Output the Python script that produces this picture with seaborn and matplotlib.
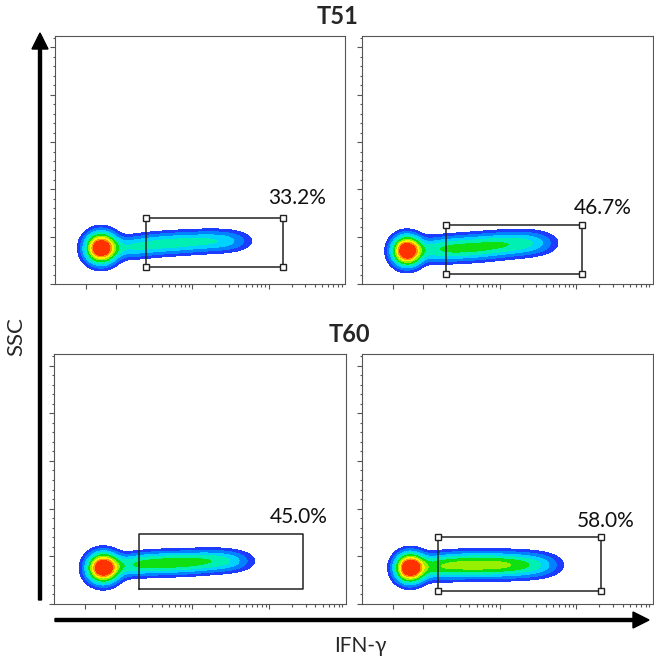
import numpy as np
import matplotlib
matplotlib.use('Agg')
import matplotlib.pyplot as plt
import seaborn as sns
from matplotlib.patches import FancyArrow
from matplotlib.transforms import IdentityTransform
from matplotlib.ticker import FixedLocator, MultipleLocator, NullFormatter

# --- Data (order: T51 left, T51 right, T60 left, T60 right) ---
ROW_TITLES = ['T51', 'T60']
GATE_LABELS = ['33.2%', '46.7%', '45.0%', '58.0%']

# IFN-gamma negative population (centre, spread in decades / SSC units)
HEAD_X = [507, 465, 595, 562]
HEAD_Y = [38000, 35000, 37800, 37800]
HEAD_SX = [0.126, 0.118, 0.126, 0.118]
HEAD_SY = [9900, 9500, 9500, 9300]

# IFN-gamma positive streak: ridge points along the tail
TAIL_X = [
    [1310, 2190, 3660, 6110, 10200, 17000, 26800, 38500],
    [1220, 2030, 3370, 5610, 9350, 15600, 24400, 35000],
    [1370, 2290, 3800, 6340, 10500, 17500, 27500, 39400],
    [1220, 2030, 3370, 5610, 9350, 15600, 25900, 39400],
]
TAIL_Y = [
    [38100, 40200, 42300, 43300, 44400, 45400, 45400, 45400],
    [35900, 37000, 38000, 39100, 41200, 42300, 43300, 43300],
    [39900, 42000, 43000, 43000, 44000, 45100, 45100, 45100],
    [38800, 39900, 40900, 40900, 40900, 40900, 40900, 40900],
]
TAIL_AMP = [
    [0.15, 0.14, 0.15, 0.15, 0.14, 0.13, 0.10, 0.06],
    [0.17, 0.19, 0.20, 0.20, 0.19, 0.16, 0.12, 0.07],
    [0.18, 0.20, 0.21, 0.21, 0.20, 0.17, 0.12, 0.07],
    [0.22, 0.24, 0.25, 0.26, 0.25, 0.22, 0.16, 0.09],
]
TAIL_SX = [0.18, 0.18, 0.18, 0.18]
TAIL_SY = [7200, 8000, 7200, 8000]

# gates (IFN-gamma range, SSC range) and label anchor
GATE_X0 = [2470, 1970, 2030, 1550]
GATE_X1 = [154000, 120000, 275000, 211000]
GATE_Y0 = [18000, 10600, 15700, 13600]
GATE_Y1 = [69800, 62400, 73400, 70300]
LABEL_X = [234000, 219000, 246000, 240000]
LABEL_Y = [90900, 80300, 91300, 87000]
GATE_HANDLES = [True, True, False, True]

# axis ranges and ticks
XMIN, XMAX = -1000, 1e6
YMAX = 262144
LINTHRESH = 1000
X_MAJOR = [0, 1e3, 1e4, 1e5]
X_MINOR = [s * 10 ** k for k in (3, 4, 5) for s in range(2, 10)]

# pseudocolour density levels (fraction of the peak)
LEVELS = [0.05, 0.10, 0.17, 0.25, 0.35, 0.45, 0.55, 0.65, 0.75]
COLORS = sns.color_palette(['#1e3cff', '#0082ff', '#00d2ff', '#00f0b4', '#10e010',
                            '#96f000', '#fff000', '#ff9600', '#ff3200'])

sns.set_style('white')
plt.rcParams['font.family'] = ['Lato', 'DejaVu Sans']

W, H = 654, 662
fig = plt.figure(figsize=(W / 100, H / 100), dpi=100)

# panel boxes in pixels: left, top, right, bottom
BOXES = [(55, 36, 345, 284), (362, 36, 653, 284),
         (54, 354, 346, 604), (362, 354, 653, 604)]


def draw_panel(i):
    l, t, r, b = BOXES[i]
    ax = fig.add_axes([l / W, 1 - b / H, (r - l) / W, (b - t) / H])
    ax.set_xscale('symlog', linthresh=LINTHRESH, linscale=0.36)
    ax.set_xlim(XMIN, XMAX)
    ax.set_ylim(0, YMAX)

    tr = ax.xaxis.get_transform()

    def to_dec(v):
        return tr.transform(np.asarray(v, float)) / LINTHRESH

    tt = np.linspace(to_dec(XMIN), to_dec(XMAX), 700)
    yy = np.linspace(0, YMAX, 500)
    T, Y = np.meshgrid(tt, yy)
    z = np.exp(-0.5 * (((T - to_dec(HEAD_X[i])) / HEAD_SX[i]) ** 2
                       + ((Y - HEAD_Y[i]) / HEAD_SY[i]) ** 2))
    for cx, cy, a in zip(to_dec(TAIL_X[i]), TAIL_Y[i], TAIL_AMP[i]):
        z += a * np.exp(-0.5 * (((T - cx) / TAIL_SX[i]) ** 2
                                + ((Y - cy) / TAIL_SY[i]) ** 2))
    xx = tr.inverted().transform(tt * LINTHRESH)
    ax.contourf(xx, yy, z, levels=LEVELS + [z.max() + 1], colors=COLORS)

    # gate
    gx = [GATE_X0[i], GATE_X1[i], GATE_X1[i], GATE_X0[i], GATE_X0[i]]
    gy = [GATE_Y0[i], GATE_Y0[i], GATE_Y1[i], GATE_Y1[i], GATE_Y0[i]]
    ax.plot(gx, gy, color='#222222', lw=1.1)
    if GATE_HANDLES[i]:
        ax.plot(gx[:4], gy[:4], ls='none', marker='s', ms=4.5,
                mfc='white', mec='#222222', mew=1.0)
    ax.text(LABEL_X[i], LABEL_Y[i], GATE_LABELS[i], ha='center', va='center',
            fontsize=15, color='#111111')

    # flow-style axes: ticks only, no labels
    ax.xaxis.set_major_locator(FixedLocator(X_MAJOR))
    ax.xaxis.set_minor_locator(FixedLocator(X_MINOR))
    ax.xaxis.set_minor_formatter(NullFormatter())
    ax.yaxis.set_major_locator(MultipleLocator(50000))
    ax.yaxis.set_minor_locator(MultipleLocator(10000))
    ax.tick_params(which='both', direction='out', bottom=True, left=True,
                   labelbottom=False, labelleft=False, color='#555555', width=0.8)
    ax.tick_params(which='major', length=3.5)
    ax.tick_params(which='minor', length=1.8)
    for sp in ax.spines.values():
        sp.set_color('#555555')
        sp.set_linewidth(0.8)
    return ax


for i in range(4):
    draw_panel(i)

# row titles
fig.text(338 / W, 1 - 17 / H, ROW_TITLES[0], ha='center', va='center',
         fontsize=17, fontweight='bold')
fig.text(349 / W, 1 - 335 / H, ROW_TITLES[1], ha='center', va='center',
         fontsize=17, fontweight='bold')

# axis arrows
px = IdentityTransform()
fig.add_artist(FancyArrow(40, H - 600, 0, 567, width=3, head_width=16, head_length=16,
                          length_includes_head=True, color='black', transform=px))
fig.add_artist(FancyArrow(55, H - 620, 594, 0, width=3, head_width=16, head_length=16,
                          length_includes_head=True, color='black', transform=px))

fig.text(16 / W, 1 - 337 / H, 'SSC', rotation=90, ha='center', va='center', fontsize=16)
fig.text(360 / W, 1 - 646 / H, 'IFN-γ', ha='center', va='center', fontsize=15)

fig.savefig('out.png', dpi=100)
plt.close(fig)
